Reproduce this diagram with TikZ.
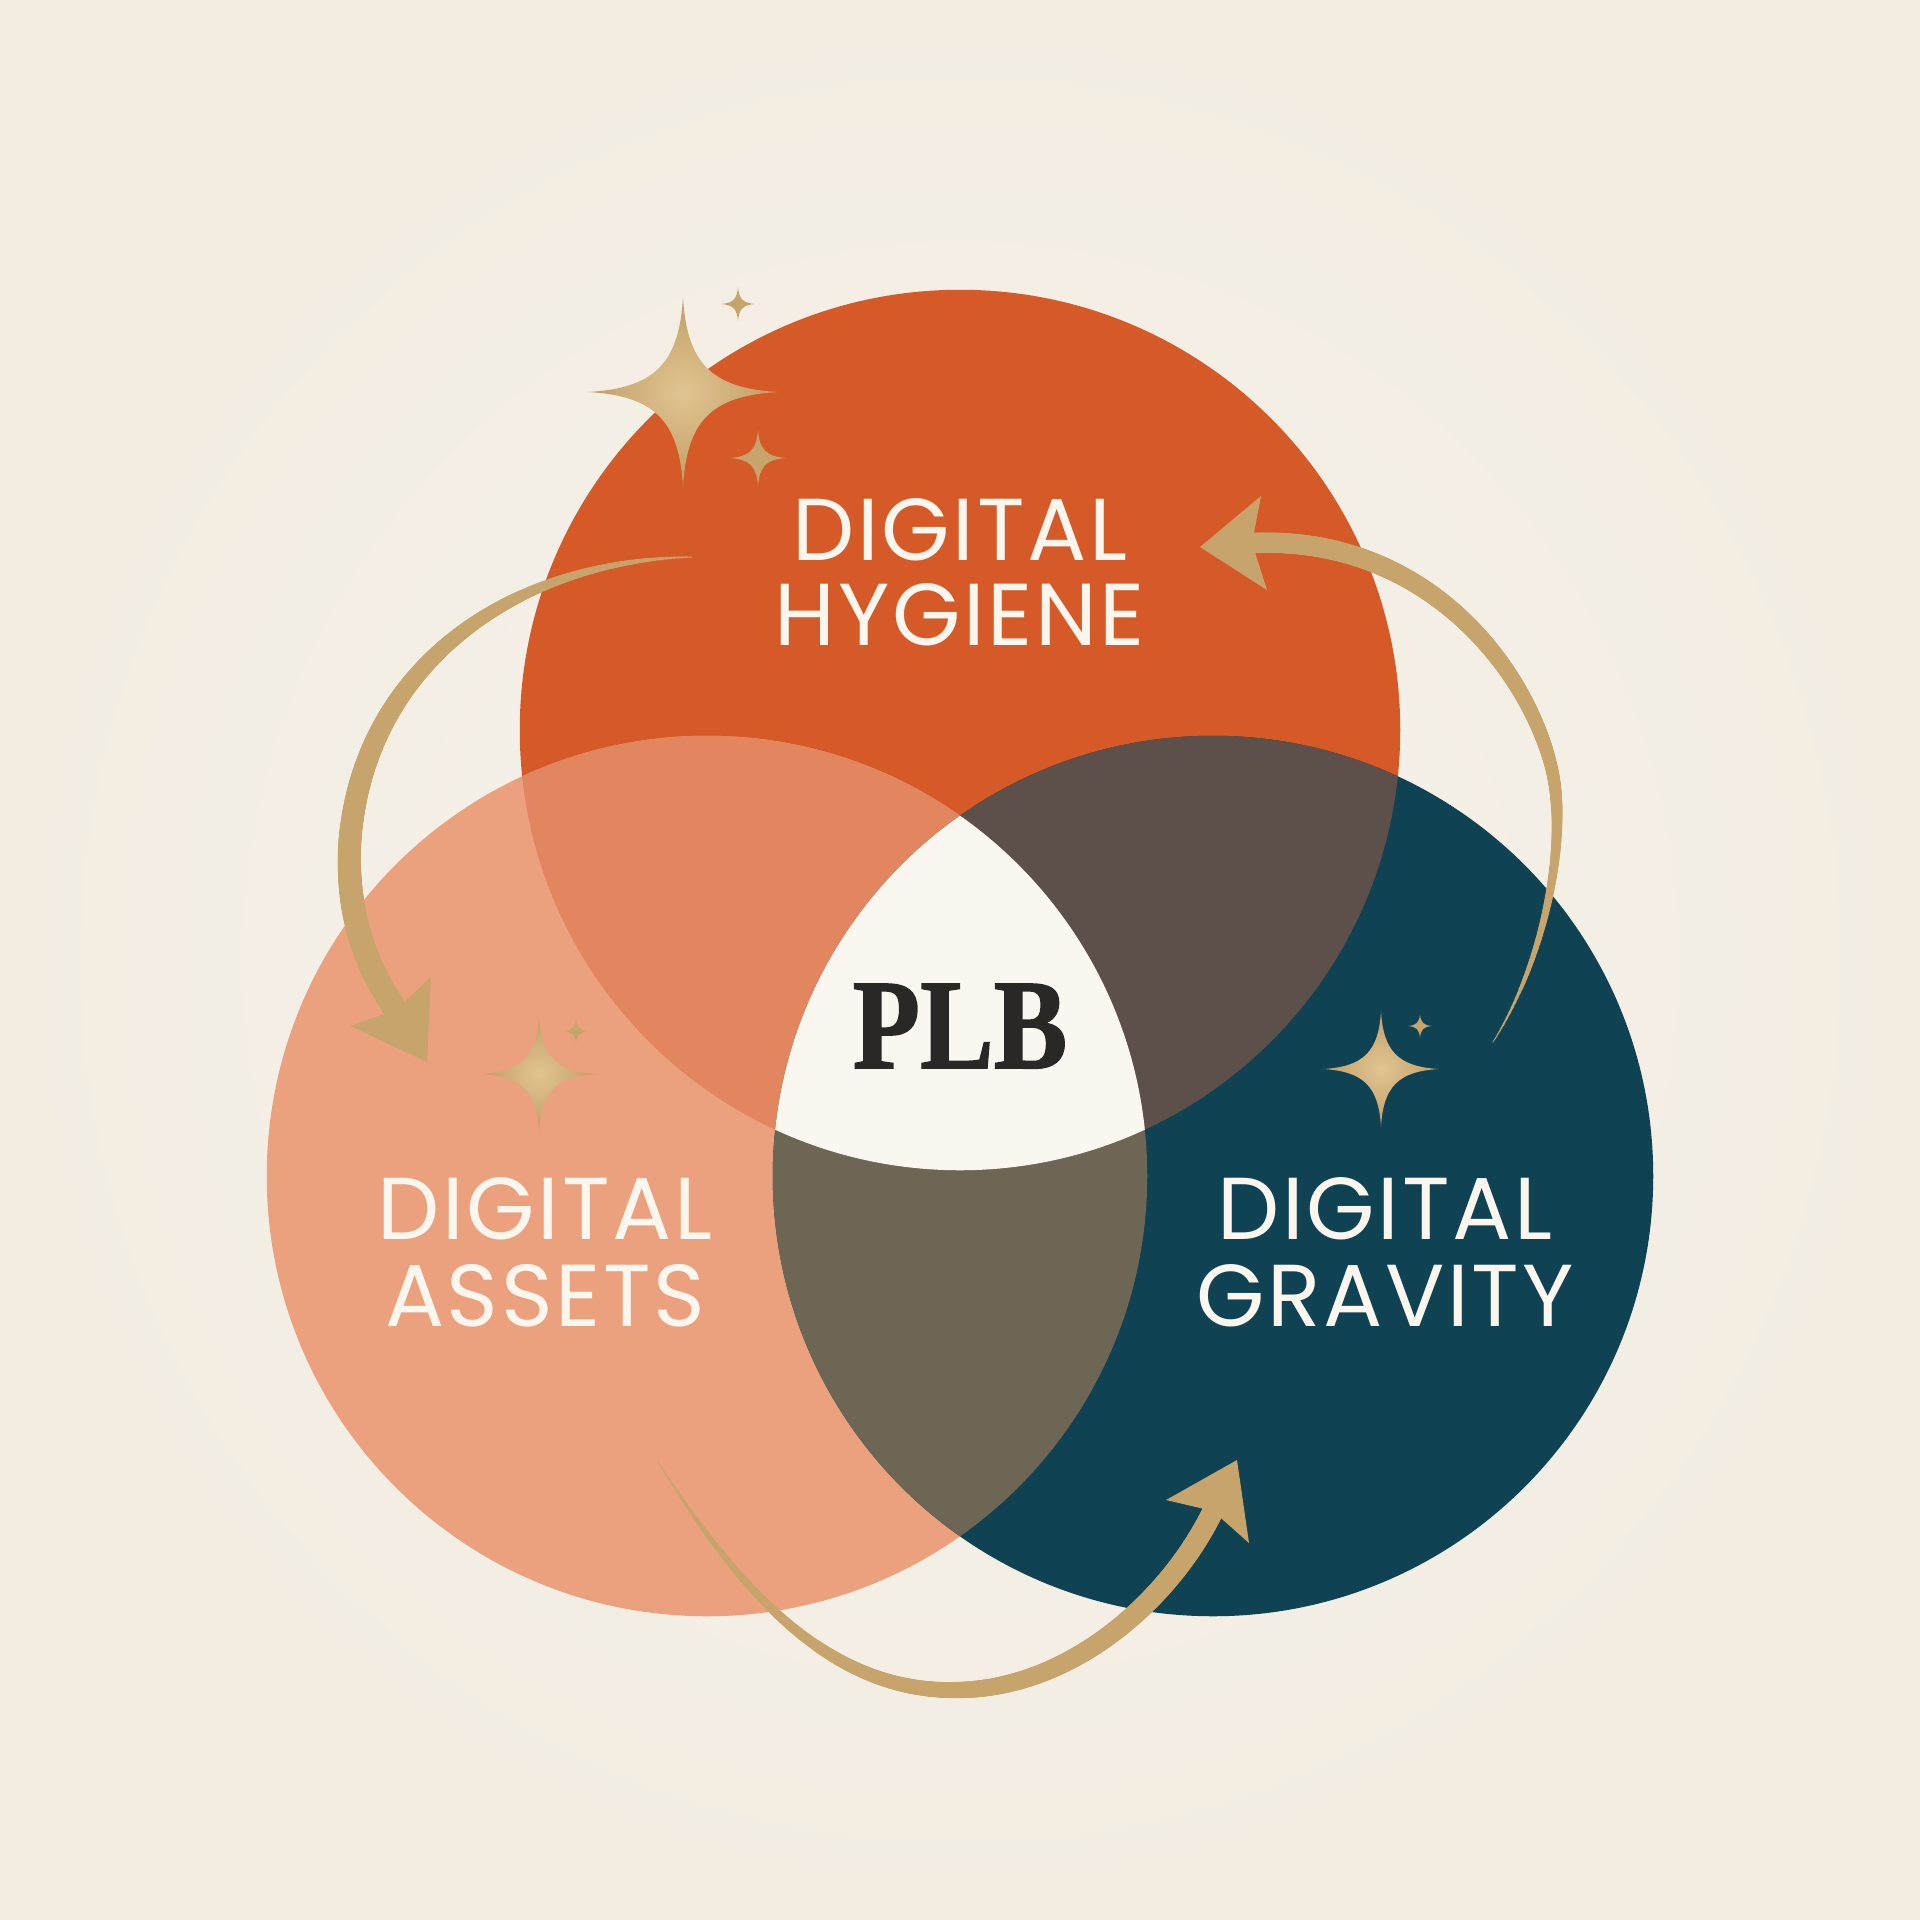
\documentclass[tikz,border=0pt]{standalone}
\usepackage{fontspec}
\newfontfamily\labfont{Poppins}[LetterSpace=3]
\newfontfamily\plbfont{Liberation Serif Bold}[FakeBold=1.2]
\usetikzlibrary{decorations.markings}
\definecolor{bgI}{HTML}{F8F4ED}
\definecolor{bgO}{HTML}{F2ECE1}
\definecolor{cTop}{HTML}{D65A27}
\definecolor{cLeft}{HTML}{ECA17E}
\definecolor{cRight}{HTML}{0F4253}
\definecolor{cTL}{HTML}{E1865F}
\definecolor{cTR}{HTML}{5D4F49}
\definecolor{cLR}{HTML}{6E6654}
\definecolor{cAll}{HTML}{FAF7F0}
\definecolor{gold}{HTML}{C8A46D}
\definecolor{goldL}{HTML}{E0C592}
\definecolor{goldD}{HTML}{C29D65}
\definecolor{txt}{HTML}{FBF6EE}
\definecolor{ink}{HTML}{2A2826}
\tikzset{
  lab/.style={text=txt, font=\labfont\fontsize{25}{30}\selectfont, anchor=base, inner sep=0pt},
  taper/.style 2 args={decorate, decoration={markings,
    mark=between positions 0 and 1 step 0.002 with {%
      \pgfmathsetmacro\fr{\pgfkeysvalueof{/pgf/decoration/mark info/sequence number}/501}%
      \pgfmathsetmacro\ang{min(90,#2*\fr)}%
      \pgfmathsetmacro\rr{0.2+(#1-0.2)*sin(\ang)}%
      \fill[gold] (0,0) circle[radius=\rr pt];}}},
  sparkle/.pic={\shade[inner color=goldL, outer color=goldD]
     (0,1) .. controls (0.04,0.3) and (0.3,0.04) .. (1,0)
     .. controls (0.3,-0.04) and (0.04,-0.3) .. (0,-1)
     .. controls (-0.04,-0.3) and (-0.3,-0.04) .. (-1,0)
     .. controls (-0.3,0.04) and (-0.04,0.3) .. cycle;},
  smallsparkle/.pic={\fill[gold]
     (0,1) .. controls (0.05,0.3) and (0.3,0.05) .. (1,0)
     .. controls (0.3,-0.05) and (0.05,-0.3) .. (0,-1)
     .. controls (-0.05,-0.3) and (-0.3,-0.05) .. (-1,0)
     .. controls (-0.3,0.05) and (-0.05,0.3) .. cycle;}
}
\begin{document}
\begin{tikzpicture}[x=0.01cm,y=-0.01cm]
\useasboundingbox (0,0) rectangle (1920,1920);
\shade[inner color=bgI, outer color=bgO] (0,0) rectangle (1920,1920);
\def\crad{4.4cm}
\coordinate (cT) at (960,730);
\coordinate (cL) at (707,1176);
\coordinate (cR) at (1213,1176);
\fill[cTop] (cT) circle[radius=\crad];
\fill[cLeft] (cL) circle[radius=\crad];
\fill[cRight] (cR) circle[radius=\crad];
\begin{scope}
  \clip (cT) circle[radius=\crad];
  \fill[cTL] (cL) circle[radius=\crad];
  \fill[cTR] (cR) circle[radius=\crad];
\end{scope}
\begin{scope}
  \clip (cL) circle[radius=\crad];
  \fill[cLR] (cR) circle[radius=\crad];
\end{scope}
\begin{scope}
  \clip (cT) circle[radius=\crad];
  \clip (cL) circle[radius=\crad];
  \fill[cAll] (cR) circle[radius=\crad];
\end{scope}

% labels
\node[lab] (h1) at (960,560) {DIGITAL};
\node[lab] (h2) at (960,645) {HYGIENE};
\node[lab] (a1) at (545,1239) {DIGITAL};
\node[lab] (a2) at (545,1326) {ASSETS};
\node[lab] (g1) at (1385,1239) {DIGITAL};
\node[lab] (g2) at (1385,1326) {GRAVITY};
\node[anchor=base, inner sep=0pt, text=ink, font=\plbfont\fontsize{36.5}{40}\selectfont] (plb) at (960,1068) {\scalebox{0.86}[1]{PLB}};

% arrow 1 (top -> left)
\coordinate (p1s) at (692,557);
\coordinate (p1m) at (350,840);
\coordinate (p1n) at (396,1010);
\coordinate (p1t) at (427,1062);
\coordinate (p1a) at (350,1026);
\coordinate (p1b) at (431,977);
\path[taper={3.4}{100}] (p1s) .. controls (520,560) and (365,660) .. (p1m) .. controls (345,920) and (370,972) .. (p1n);
\fill[gold] (p1t) -- (p1a) -- (p1n) -- (p1b) -- cycle;

% arrow 2 (right -> top)
\coordinate (p2s) at (1493,1042);
\coordinate (p2m) at (1552,770);
\coordinate (p2n) at (1252,543);
\coordinate (p2t) at (1200,547);
\coordinate (p2a) at (1261,496);
\coordinate (p2b) at (1267,590);
\path[taper={2.9}{90}] (p2s) .. controls (1545,960) and (1568,840) .. (p2m) .. controls (1530,674) and (1430,535) .. (p2n);
\fill[gold] (p2t) -- (p2a) -- (p2n) -- (p2b) -- cycle;

% arrow 3 (left -> right)
\coordinate (p3s) at (658,1462);
\coordinate (p3m) at (955,1690);
\coordinate (p3n) at (1213,1511);
\coordinate (p3t) at (1237,1460);
\coordinate (p3a) at (1166,1500);
\coordinate (p3b) at (1249,1543);
\path[taper={3.0}{90}] (p3s) .. controls (730,1575) and (820,1692) .. (p3m) .. controls (1070,1690) and (1170,1600) .. (p3n);
\fill[gold] (p3t) -- (p3a) -- (p3n) -- (p3b) -- cycle;

% sparkles
\pic[scale=95] (s1) at (683,392) {sparkle};
\pic[scale=17] (s2) at (738,304) {smallsparkle};
\pic[scale=28] (s3) at (758,458) {smallsparkle};
\pic[scale=58] (s4) at (539,1074) {sparkle};
\pic[scale=13] (s5) at (576,1031) {smallsparkle};
\pic[scale=58] (s6) at (1381,1069) {sparkle};
\pic[scale=12] (s7) at (1420,1026) {smallsparkle};
\end{tikzpicture}
\end{document}
